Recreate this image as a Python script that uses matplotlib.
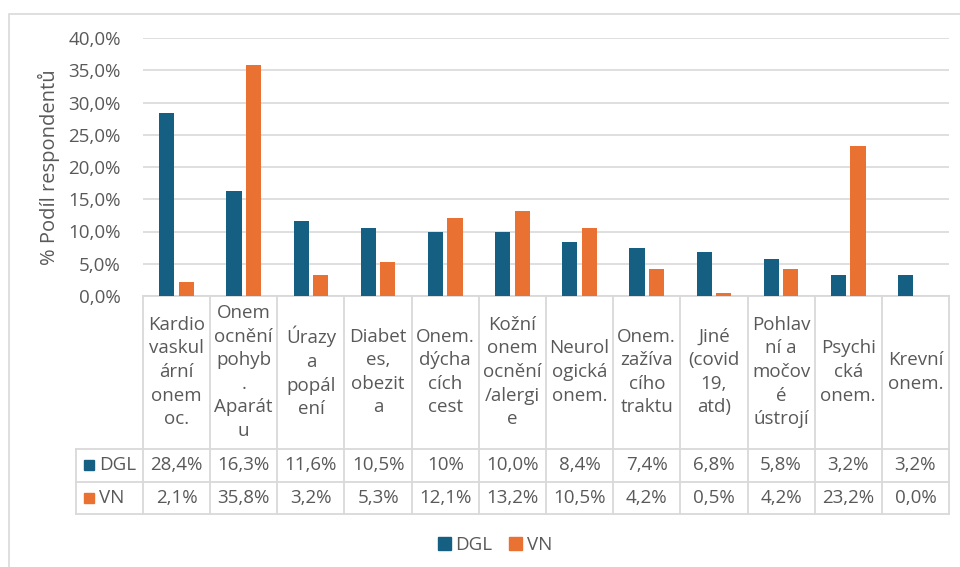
import matplotlib.pyplot as plt
import matplotlib.transforms as mtransforms
from matplotlib.patches import Patch, Rectangle
from matplotlib.ticker import FuncFormatter

# data
categories = ['Kardio\nvaskul\nární\nonem\noc.', 'Onem\nocnění\npohyb\n.\nAparát\nu',
              'Úrazy\na\npopál\není', 'Diabet\nes,\nobezit\na', 'Onem.\ndýcha\ncích\ncest',
              'Kožní\nonem\nocnění\n/alergi\ne', 'Neurol\nogická\nonem.', 'Onem.\nzažíva\ncího\ntraktu',
              'Jiné\n(covid\n19,\natd)', 'Pohlav\nní a\nmočov\né\nústrojí', 'Psychi\ncká\nonem.',
              'Krevní\nonem.']
dgl = [28.4, 16.3, 11.6, 10.5, 10.0, 10.0, 8.4, 7.4, 6.8, 5.8, 3.2, 3.2]
vn = [2.1, 35.8, 3.2, 5.3, 12.1, 13.2, 10.5, 4.2, 0.5, 4.2, 23.2, 0.0]
dgl_labels = ['28,4%', '16,3%', '11,6%', '10,5%', '10%', '10,0%', '8,4%', '7,4%', '6,8%', '5,8%', '3,2%', '3,2%']
vn_labels = ['2,1%', '35,8%', '3,2%', '5,3%', '12,1%', '13,2%', '10,5%', '4,2%', '0,5%', '4,2%', '23,2%', '0,0%']
series = ['DGL', 'VN']

blue = '#156082'
orange = '#E97132'
grey_txt = '#595959'
grid_col = '#D9D9D9'

plt.rcParams['font.family'] = ['Open Sans', 'DejaVu Sans']
fs = 13.5

W, H = 960, 567
fig = plt.figure(figsize=(W / 100, H / 100), dpi=100)


def fy(py):
    return 1 - py / H


ax = fig.add_axes([143 / W, fy(296), (949 - 143) / W, (296 - 38) / H])
x = list(range(len(categories)))
off = 0.145
bw = 0.225
ax.bar([i - off for i in x], dgl, width=bw, color=blue, zorder=3)
ax.bar([i + off for i in x], vn, width=bw, color=orange, zorder=3)

ax.set_xlim(-0.5, len(categories) - 0.5)
ax.set_ylim(0, 40)
ax.set_yticks(range(0, 41, 5))
ax.yaxis.set_major_formatter(FuncFormatter(lambda v, p: f'{v:.1f}%'.replace('.', ',')))
ax.tick_params(axis='y', length=0, pad=16, labelsize=fs, labelcolor=grey_txt)
ax.set_xticks([])
ax.grid(axis='y', color=grid_col, lw=1.2, zorder=0)
for s in ax.spines.values():
    s.set_visible(False)
ax.set_ylabel('% Podíl respondentů', fontsize=14.5, color=grey_txt)
ax.yaxis.set_label_coords(-83 / 806, 0.5)

# data table below the axis (x in category units, y in figure fraction)
tr = mtransforms.blended_transform_factory(ax.transData, fig.transFigure)
n = len(categories)
y_top, y_r1, y_r2, y_bot = fy(296), fy(449), fy(482), fy(514)
lkw = dict(color=grid_col, lw=1.3, transform=tr, clip_on=False)
ax.plot([-0.5, n - 0.5], [y_top, y_top], **lkw)
for yy in (y_r1, y_r2, y_bot):
    ax.plot([-1.5, n - 0.5], [yy, yy], **lkw)
for b in range(n + 1):
    ax.plot([b - 0.5, b - 0.5], [y_top, y_bot], **lkw)
ax.plot([-1.5, -1.5], [y_r1, y_bot], **lkw)

for i in x:
    ax.text(i, fy(372), categories[i], transform=tr, ha='center', va='center',
            fontsize=fs, color=grey_txt, linespacing=1.4, clip_on=False)
    ax.text(i, fy(465), dgl_labels[i], transform=tr, ha='center', va='center',
            fontsize=fs, color=grey_txt, clip_on=False)
    ax.text(i, fy(498), vn_labels[i], transform=tr, ha='center', va='center',
            fontsize=fs, color=grey_txt, clip_on=False)

for name, col, yy in zip(series, [blue, orange], [465, 498]):
    ax.plot([-1.305], [fy(yy)], marker='s', ms=7, color=col, transform=tr, clip_on=False)
    ax.text(-1.15, fy(yy), name, transform=tr, ha='left', va='center',
            fontsize=fs, color=grey_txt, clip_on=False)

handles = [Patch(color=blue, label='DGL'), Patch(color=orange, label='VN')]
leg = fig.legend(handles=handles, loc='center', bbox_to_anchor=(495 / W, fy(545)), ncol=2,
                 frameon=False, fontsize=fs, handlelength=0.7, handleheight=0.7,
                 handletextpad=0.25, columnspacing=0.9)
for t in leg.get_texts():
    t.set_color(grey_txt)

fig.patches.append(Rectangle((9 / W, -0.1), 1.1, fy(14) + 0.1, transform=fig.transFigure,
                             fill=False, edgecolor=grid_col, lw=1.2))

fig.savefig('out.png', dpi=100)
